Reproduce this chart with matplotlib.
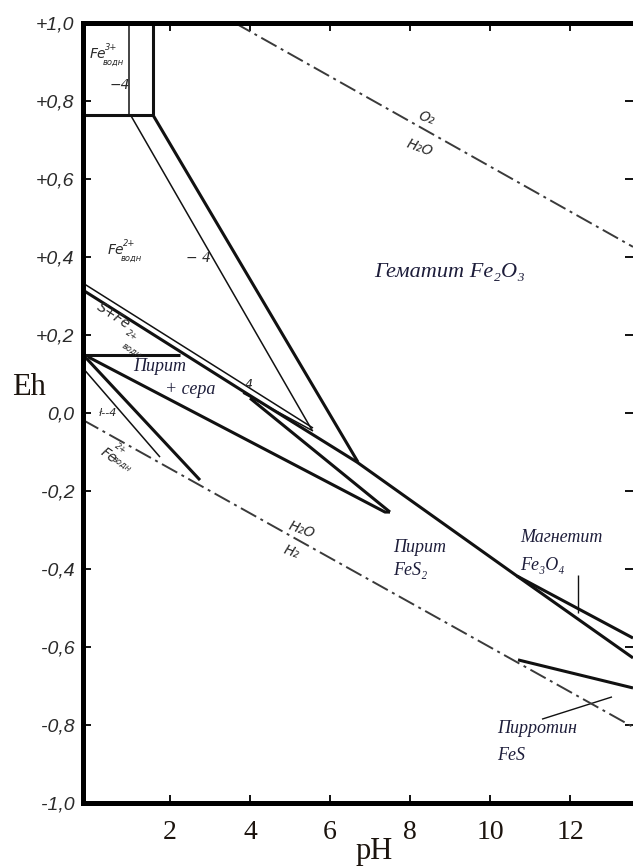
import numpy as np
import matplotlib.pyplot as plt

# Eh-pH diagram for Fe-S-O-H, boundaries (pH, Eh in V)
box_thick_ph = [1.575, 1.575]
box_thick_eh = [1.0, 0.764]
box_thin_ph = [0.975, 0.975]
box_thin_eh = [1.0, 0.764]
box_floor_ph = [-0.175, 1.575]
box_floor_eh = [0.764, 0.764]

tongue_thick_ph = [1.575, 6.70]
tongue_thick_eh = [0.764, -0.126]
tongue_thin_ph = [1.025, 5.55]
tongue_thin_eh = [0.762, -0.044]

sulfur_top_ph = [-0.175, 5.575]
sulfur_top_eh = [0.333, -0.0385]
pyrite_main_ph = [-0.175, 3.825, 6.675, 10.675, 13.575]
pyrite_main_eh = [0.315, 0.056, -0.126, -0.418, -0.628]
sulfur_low_ph = [3.825, 5.575]
sulfur_low_eh = [0.051, -0.046]
shelf_ph = [-0.175, 2.25]
shelf_eh = [0.149, 0.149]

wedge_low_ph = [-0.05, 7.375, 7.5]
wedge_low_eh = [0.144, -0.254, -0.254]
wedge_up_ph = [4.0, 7.5]
wedge_up_eh = [0.038, -0.254]

magnetite_ph = [10.675, 13.575]
magnetite_eh = [-0.418, -0.577]

fe2_thick_ph = [-0.125, 2.75]
fe2_thick_eh = [0.144, -0.172]
fe2_thin_ph = [-0.175, 1.75]
fe2_thin_eh = [0.115, -0.113]

pyrrhotite_ph = [10.7, 13.575]
pyrrhotite_eh = [-0.633, -0.705]

o2_ph = [3.625, 13.575]
o2_eh = [1.0, 0.426]
h2_ph = [-0.175, 13.575]
h2_eh = [-0.018, -0.805]

mag_lead_ph = [12.2, 12.2]
mag_lead_eh = [-0.415, -0.513]
pyr_lead_ph = [11.3, 13.05]
pyr_lead_eh = [-0.785, -0.728]

x_ticks = [2, 4, 6, 8, 10, 12]
y_ticks = [1.0, 0.8, 0.6, 0.4, 0.2, 0.0, -0.2, -0.4, -0.6, -0.8, -1.0]
y_labels = ["+1,0", "+0,8", "+0,6", "+0,4", "+0,2", "0,0",
            "-0,2", "-0,4", "-0,6", "-0,8", "-1,0"]

fig = plt.figure(figsize=(6.33, 8.68), dpi=100)
ax = fig.add_axes([83 / 633, 1 - 803 / 868, 550 / 633, 780 / 868])
ax.set_xlim(-0.175, 13.575)
ax.set_ylim(-1.0, 1.0)

ink = "#111111"
thick = 2.2
thin = 1.1

for ph, eh, lw in [
    (box_thick_ph, box_thick_eh, thick),
    (box_thin_ph, box_thin_eh, thin),
    (box_floor_ph, box_floor_eh, thick),
    (tongue_thick_ph, tongue_thick_eh, thick),
    (tongue_thin_ph, tongue_thin_eh, thin),
    (sulfur_top_ph, sulfur_top_eh, thin),
    (pyrite_main_ph, pyrite_main_eh, thick),
    (sulfur_low_ph, sulfur_low_eh, thin),
    (shelf_ph, shelf_eh, thick),
    (wedge_low_ph, wedge_low_eh, thick),
    (wedge_up_ph, wedge_up_eh, thick),
    (magnetite_ph, magnetite_eh, thick),
    (fe2_thick_ph, fe2_thick_eh, thick),
    (fe2_thin_ph, fe2_thin_eh, thin),
    (pyrrhotite_ph, pyrrhotite_eh, thick),
    (mag_lead_ph, mag_lead_eh, 1.0),
    (pyr_lead_ph, pyr_lead_eh, 1.0),
]:
    ax.plot(ph, eh, color=ink, lw=lw, solid_capstyle="butt")

dashdot = (0, (9, 2.5, 1.5, 2.5))
ax.plot(o2_ph, o2_eh, color="#3a3a3a", lw=1.4, linestyle=dashdot)
ax.plot(h2_ph, h2_eh, color="#3a3a3a", lw=1.4, linestyle=dashdot)

# axes frame
for side in ["left", "top", "bottom"]:
    ax.spines[side].set_linewidth(3.6)
    ax.spines[side].set_color("#000000")
ax.spines["right"].set_visible(False)

ax.set_xticks(x_ticks)
ax.set_xticklabels([str(t) for t in x_ticks], family=["Liberation Serif", "DejaVu Serif"],
                   fontsize=20, color="#1c140e")
ax.set_yticks(y_ticks)
ax.set_yticklabels(y_labels, family="Liberation Sans", style="italic",
                   fontsize=14, color="#2a2a2a")
ax.tick_params(axis="both", direction="in", length=6, width=1.4, color="#111111")
ax.tick_params(axis="x", pad=12, top=True)
ax.tick_params(axis="y", pad=6, right=True)
for t in ax.xaxis.get_major_ticks():
    t.tick2line.set_color("#b0b0b0")
for t in ax.yaxis.get_major_ticks():
    t.tick2line.set_color("#b0b0b0")

fig.text(29 / 633, 1 - 388 / 868, "Eh", family="Liberation Serif", fontsize=22,
         color="#1c140e", ha="center", va="center")
fig.text(374 / 633, 1 - 851 / 868, "pH", family="Liberation Serif", fontsize=22,
         color="#1c140e", ha="center", va="center")

# field names (typed in the scan)
serif_it = dict(family=["Liberation Serif", "DejaVu Serif"], style="italic", color="#1d1d3a")
ax.text(9.0, 0.3615, "Гематит Fe₂O₃", fontsize=16, ha="center", va="center", **serif_it)
ax.text(1.075, 0.118, "Пирит", fontsize=13, ha="left", va="center", **serif_it)
ax.text(1.875, 0.0615, "+ сера", fontsize=13, ha="left", va="center", **serif_it)
ax.text(7.575, -0.346, "Пирит", fontsize=13, ha="left", va="center", **serif_it)
ax.text(7.575, -0.405, "FeS₂", fontsize=13, ha="left", va="center", **serif_it)
ax.text(10.75, -0.318, "Магнетит", fontsize=13, ha="left", va="center", **serif_it)
ax.text(10.75, -0.39, "Fe₃O₄", fontsize=13, ha="left", va="center", **serif_it)
ax.text(10.175, -0.808, "Пирротин", fontsize=13, ha="left", va="center", **serif_it)
ax.text(10.175, -0.877, "FeS", fontsize=13, ha="left", va="center", **serif_it)

# hand-lettered marks of the original drawing
hand = dict(family="DejaVu Sans", style="italic", color="#2a2a2a")


def species(x, y, base, sup, sub, rot=0):
    ax.annotate(base, (x, y), fontsize=10, rotation=rot, ha="left", va="center", **hand)
    ax.annotate(sup, (x, y), xytext=(11, 5), textcoords="offset points", fontsize=6,
                rotation=rot, ha="left", va="center", **hand)
    ax.annotate(sub, (x, y), xytext=(9, -6), textcoords="offset points", fontsize=6,
                rotation=rot, ha="left", va="center", **hand)


species(0.0, 0.92, "Fe", "3+", "водн")
species(0.45, 0.418, "Fe", "2+", "водн")
species(0.2, -0.11, "Fe", "2+", "водн", rot=-35)
ax.text(0.1, 0.25, "S+Fe", fontsize=10, rotation=-33, ha="left", va="center", **hand)
ax.text(0.85, 0.2, "2+", fontsize=6, rotation=-33, ha="left", va="center", **hand)
ax.text(0.75, 0.16, "водн", fontsize=6, rotation=-33, ha="left", va="center", **hand)
ax.text(0.75, 0.84, "−4", fontsize=10, ha="center", va="center", **hand)
ax.text(2.7, 0.397, "− 4", fontsize=10, ha="center", va="center", **hand)
ax.text(3.975, 0.072, "4", fontsize=9, ha="center", va="center", **hand)
ax.text(0.45, 0.0, "ł--4", fontsize=8, ha="center", va="center", **hand)
ax.text(8.425, 0.755, "O₂", fontsize=10, rotation=-20, ha="center", va="center", **hand)
ax.text(8.25, 0.68, "H₂O", fontsize=10, rotation=-20, ha="center", va="center", **hand)
ax.text(5.3, -0.30, "H₂O", fontsize=10, rotation=-20, ha="center", va="center", **hand)
ax.text(5.05, -0.356, "H₂", fontsize=10, rotation=-20, ha="center", va="center", **hand)

fig.savefig("out.png", dpi=100)
